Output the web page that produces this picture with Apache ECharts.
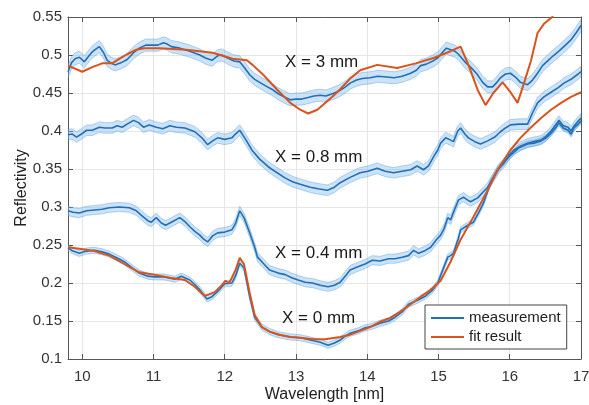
<!DOCTYPE html>
<html>
<head>
<meta charset="utf-8">
<script src="https://cdn.jsdelivr.net/npm/echarts/dist/echarts.min.js"></script>
<style>
  html, body { margin: 0; padding: 0; background: #fff; }
  #chart { width: 589px; height: 405px; }
</style>
</head>
<body>
<div id="chart"></div>
<script>
// X = 3 mm
const wl3 = [9.8, 9.85, 9.9, 9.96, 10.03, 10.07, 10.13, 10.18, 10.24, 10.3, 10.35, 10.41, 10.46, 10.55, 10.63, 10.72, 10.8, 10.89, 10.97, 11.06, 11.14, 11.2, 11.25, 11.37, 11.51, 11.65, 11.73, 11.82, 11.9, 11.96, 12.04, 12.13, 12.21, 12.28, 12.35, 12.42, 12.49, 12.58, 12.66, 12.75, 12.83, 12.92, 13.0, 13.08, 13.17, 13.25, 13.34, 13.42, 13.51, 13.59, 13.68, 13.76, 13.85, 13.93, 14.04, 14.15, 14.27, 14.38, 14.49, 14.61, 14.69, 14.75, 14.83, 14.92, 15.0, 15.06, 15.11, 15.17, 15.23, 15.28, 15.37, 15.45, 15.54, 15.62, 15.69, 15.76, 15.82, 15.87, 15.94, 16.01, 16.08, 16.15, 16.25, 16.32, 16.39, 16.46, 16.54, 16.61, 16.69, 16.77, 16.86, 16.93, 17.0]
const r3 = [0.478, 0.490, 0.495, 0.497, 0.491, 0.496, 0.503, 0.507, 0.511, 0.503, 0.493, 0.489, 0.487, 0.490, 0.494, 0.503, 0.509, 0.513, 0.513, 0.513, 0.516, 0.514, 0.511, 0.509, 0.505, 0.500, 0.496, 0.493, 0.499, 0.500, 0.496, 0.492, 0.491, 0.483, 0.474, 0.468, 0.464, 0.459, 0.455, 0.449, 0.445, 0.441, 0.442, 0.442, 0.444, 0.446, 0.447, 0.446, 0.449, 0.452, 0.457, 0.463, 0.467, 0.469, 0.470, 0.472, 0.471, 0.470, 0.472, 0.476, 0.480, 0.486, 0.488, 0.492, 0.497, 0.504, 0.509, 0.507, 0.505, 0.501, 0.491, 0.484, 0.475, 0.464, 0.458, 0.458, 0.464, 0.470, 0.475, 0.476, 0.471, 0.464, 0.461, 0.467, 0.476, 0.486, 0.493, 0.499, 0.505, 0.512, 0.520, 0.529, 0.539]
const wlFit3 = [9.8, 10.0, 10.14, 10.28, 10.42, 10.52, 10.63, 10.76, 10.87, 11.08, 11.46, 11.83, 12.11, 12.31, 12.39, 12.54, 12.73, 12.92, 13.06, 13.17, 13.3, 13.41, 13.51, 13.62, 13.76, 13.9, 14.14, 14.42, 14.68, 14.93, 15.17, 15.31, 15.42, 15.55, 15.66, 15.77, 15.9, 16.01, 16.11, 16.2, 16.3, 16.39, 16.48, 16.61]
const rFit3 = [0.486, 0.478, 0.484, 0.489, 0.489, 0.495, 0.501, 0.507, 0.509, 0.509, 0.507, 0.503, 0.495, 0.493, 0.487, 0.474, 0.455, 0.437, 0.428, 0.423, 0.428, 0.437, 0.445, 0.455, 0.469, 0.480, 0.487, 0.483, 0.489, 0.496, 0.505, 0.511, 0.487, 0.454, 0.434, 0.450, 0.464, 0.451, 0.437, 0.463, 0.493, 0.529, 0.541, 0.551]

// X = 0.8 mm
const wl08 = [9.8, 9.86, 9.92, 9.99, 10.06, 10.14, 10.24, 10.32, 10.42, 10.49, 10.56, 10.63, 10.72, 10.79, 10.86, 10.94, 11.04, 11.13, 11.23, 11.32, 11.44, 11.58, 11.68, 11.76, 11.83, 11.9, 12.0, 12.1, 12.15, 12.21, 12.3, 12.38, 12.49, 12.61, 12.72, 12.85, 12.96, 13.06, 13.2, 13.31, 13.44, 13.54, 13.62, 13.76, 13.9, 14.01, 14.14, 14.25, 14.37, 14.49, 14.61, 14.7, 14.79, 14.86, 14.93, 14.99, 15.03, 15.1, 15.17, 15.21, 15.27, 15.31, 15.37, 15.42, 15.51, 15.59, 15.69, 15.79, 15.87, 15.94, 16.01, 16.13, 16.25, 16.32, 16.39, 16.48, 16.58, 16.68, 16.76, 16.86, 16.96, 17.0]
const r08 = [0.395, 0.396, 0.392, 0.396, 0.401, 0.401, 0.405, 0.404, 0.404, 0.407, 0.405, 0.409, 0.414, 0.411, 0.405, 0.408, 0.405, 0.403, 0.407, 0.405, 0.404, 0.399, 0.391, 0.382, 0.387, 0.391, 0.389, 0.391, 0.396, 0.401, 0.388, 0.375, 0.363, 0.353, 0.346, 0.338, 0.333, 0.330, 0.326, 0.324, 0.322, 0.326, 0.332, 0.339, 0.345, 0.347, 0.351, 0.347, 0.345, 0.347, 0.349, 0.354, 0.349, 0.354, 0.366, 0.375, 0.384, 0.391, 0.388, 0.386, 0.400, 0.404, 0.396, 0.391, 0.386, 0.383, 0.387, 0.392, 0.399, 0.404, 0.408, 0.409, 0.409, 0.424, 0.437, 0.445, 0.451, 0.457, 0.463, 0.468, 0.475, 0.478]

// X = 0.4 mm
const wl04 = [9.8, 9.87, 9.96, 10.06, 10.17, 10.28, 10.38, 10.52, 10.66, 10.76, 10.83, 10.92, 10.97, 11.04, 11.11, 11.17, 11.25, 11.37, 11.45, 11.51, 11.58, 11.65, 11.70, 11.76, 11.83, 11.90, 12.00, 12.10, 12.15, 12.21, 12.27, 12.35, 12.42, 12.46, 12.55, 12.63, 12.75, 12.85, 12.94, 13.03, 13.13, 13.23, 13.34, 13.45, 13.54, 13.62, 13.69, 13.76, 13.86, 13.97, 14.07, 14.18, 14.30, 14.39, 14.49, 14.58, 14.65, 14.72, 14.80, 14.89, 14.97, 15.03, 15.08, 15.13, 15.17, 15.21, 15.28, 15.35, 15.41, 15.45, 15.55, 15.63, 15.69, 15.77, 15.85, 15.92, 15.99, 16.06, 16.15, 16.25, 16.34, 16.44, 16.51, 16.58, 16.65, 16.69, 16.75, 16.82, 16.86, 16.90, 16.96, 17.0]
const r04 = [0.295, 0.293, 0.292, 0.295, 0.296, 0.297, 0.299, 0.300, 0.299, 0.295, 0.289, 0.282, 0.280, 0.286, 0.279, 0.276, 0.280, 0.286, 0.280, 0.274, 0.268, 0.263, 0.258, 0.254, 0.262, 0.266, 0.267, 0.270, 0.278, 0.295, 0.286, 0.266, 0.247, 0.234, 0.225, 0.217, 0.213, 0.211, 0.207, 0.204, 0.201, 0.200, 0.197, 0.195, 0.197, 0.201, 0.209, 0.217, 0.221, 0.225, 0.230, 0.229, 0.232, 0.232, 0.234, 0.236, 0.243, 0.239, 0.242, 0.247, 0.257, 0.263, 0.272, 0.286, 0.283, 0.293, 0.309, 0.313, 0.309, 0.307, 0.312, 0.320, 0.326, 0.339, 0.351, 0.358, 0.368, 0.375, 0.380, 0.384, 0.386, 0.388, 0.393, 0.400, 0.409, 0.414, 0.407, 0.405, 0.400, 0.406, 0.413, 0.417]

// X = 0 mm
const wl0 = [9.8, 9.87, 9.96, 10.06, 10.17, 10.28, 10.38, 10.49, 10.59, 10.70, 10.80, 10.92, 11.01, 11.15, 11.30, 11.39, 11.51, 11.59, 11.65, 11.75, 11.82, 11.90, 12.00, 12.10, 12.15, 12.21, 12.27, 12.35, 12.42, 12.52, 12.63, 12.75, 12.92, 13.06, 13.20, 13.34, 13.45, 13.54, 13.62, 13.69, 13.76, 13.87, 13.97, 14.07, 14.18, 14.30, 14.39, 14.49, 14.58, 14.65, 14.72, 14.82, 14.92, 14.99, 15.06, 15.13, 15.17, 15.21, 15.28, 15.31, 15.41, 15.49, 15.56, 15.63, 15.73, 15.83, 15.92, 16.01, 16.13, 16.25, 16.34, 16.44, 16.51, 16.58, 16.65, 16.69, 16.75, 16.82, 16.86, 16.90, 16.96, 17.0]
const r0 = [0.246, 0.242, 0.239, 0.242, 0.243, 0.241, 0.238, 0.233, 0.228, 0.220, 0.213, 0.209, 0.208, 0.208, 0.205, 0.209, 0.204, 0.197, 0.191, 0.179, 0.182, 0.189, 0.199, 0.200, 0.209, 0.226, 0.220, 0.182, 0.155, 0.142, 0.136, 0.132, 0.129, 0.128, 0.125, 0.122, 0.118, 0.121, 0.125, 0.130, 0.134, 0.137, 0.141, 0.143, 0.147, 0.150, 0.155, 0.162, 0.172, 0.175, 0.178, 0.183, 0.191, 0.200, 0.217, 0.234, 0.236, 0.239, 0.259, 0.270, 0.276, 0.280, 0.292, 0.305, 0.332, 0.349, 0.359, 0.368, 0.378, 0.383, 0.384, 0.387, 0.391, 0.397, 0.405, 0.411, 0.404, 0.401, 0.396, 0.404, 0.409, 0.413]
const wlFit0 = [9.8, 9.96, 10.17, 10.38, 10.59, 10.80, 11.01, 11.23, 11.44, 11.58, 11.72, 11.86, 11.96, 12.01, 12.06, 12.10, 12.15, 12.21, 12.27, 12.35, 12.42, 12.52, 12.63, 12.77, 12.92, 13.06, 13.24, 13.41, 13.62, 13.76, 13.90, 14.04, 14.18, 14.32, 14.46, 14.61, 14.75, 14.89, 15.03, 15.17, 15.31, 15.49, 15.69, 15.83, 16.01, 16.15, 16.30, 16.44, 16.58, 16.72, 16.86, 17.0]
const rFit0 = [0.247, 0.245, 0.242, 0.236, 0.225, 0.214, 0.211, 0.207, 0.204, 0.195, 0.183, 0.188, 0.197, 0.203, 0.200, 0.207, 0.217, 0.233, 0.225, 0.187, 0.158, 0.142, 0.136, 0.132, 0.129, 0.128, 0.126, 0.126, 0.129, 0.132, 0.137, 0.142, 0.149, 0.154, 0.162, 0.172, 0.182, 0.191, 0.203, 0.228, 0.257, 0.287, 0.322, 0.349, 0.375, 0.391, 0.405, 0.417, 0.428, 0.437, 0.445, 0.451]

// half width of the shaded uncertainty band per measurement
const err3 = 0.008
const err08 = 0.007
const err04 = 0.006
const err0 = 0.004

const yTicks = [0.1, 0.15, 0.2, 0.25, 0.3, 0.35, 0.4, 0.45, 0.5, 0.55]

const BLUE = '#2170b6'
const ORANGE = '#d9541c'
const BAND = 'rgba(120, 180, 232, 0.38)'
const BAND_EDGE = 'rgba(90, 160, 220, 0.45)'
const AXIS = '#555'
const GRID = '#e6e6e6'
const FONT = '"Liberation Sans", Arial, Helvetica, sans-serif'

const zip = (xs, ys) => xs.map((x, i) => [x, ys[i]])

function band(xs, ys, err) {
  return {
    type: 'custom',
    silent: true,
    clip: true,
    z: 1,
    data: [[xs[0], ys[0]]],
    renderItem: (params, api) => {
      const pts = []
      xs.forEach((x, i) => pts.push(api.coord([x, ys[i] + err])))
      for (let i = xs.length - 1; i >= 0; i--) pts.push(api.coord([xs[i], ys[i] - err]))
      return {
        type: 'polygon',
        shape: { points: pts },
        style: { fill: BAND, stroke: BAND_EDGE, lineWidth: 1 }
      }
    }
  }
}

function line(name, xs, ys, color, width, z) {
  return {
    type: 'line',
    name: name,
    data: zip(xs, ys),
    symbol: 'none',
    silent: true,
    z: z,
    lineStyle: { color: color, width: width },
    itemStyle: { color: color }
  }
}

function label(text, x, y) {
  return {
    type: 'text', x: x, y: y, z: 10,
    style: { text: text, font: '17px ' + FONT, fill: '#1a1a1a', verticalAlign: 'middle' }
  }
}

const chart = echarts.init(document.getElementById('chart'))

chart.setOption({
  animation: false,
  grid: { left: 68, right: 8, top: 17, bottom: 46, containLabel: false, outerBoundsMode: 'none' },
  legend: {
    data: ['measurement', 'fit result'],
    orient: 'vertical',
    left: 425, top: 305,
    padding: [5, 6, 4, 6],
    itemGap: 3,
    icon: 'rect',
    itemWidth: 33, itemHeight: 2,
    backgroundColor: '#fff',
    borderColor: '#444', borderWidth: 1,
    textStyle: { fontSize: 15, fontFamily: FONT, color: '#222', lineHeight: 16 }
  },
  xAxis: [
    {
      type: 'value', min: 9.8, max: 17, splitNumber: 7,
      name: 'Wavelength [nm]', nameLocation: 'middle', nameGap: 28, nameMoveOverlap: false,
      nameTextStyle: { fontSize: 16, fontFamily: FONT, color: '#222' },
      axisLine: { onZero: false, lineStyle: { color: AXIS } },
      axisTick: { inside: true, length: 5, lineStyle: { color: AXIS } },
      axisLabel: {
        margin: 10, fontSize: 15, fontFamily: FONT, color: '#333',
        formatter: v => Math.abs(v - Math.round(v)) < 1e-6 ? String(Math.round(v)) : ''
      },
      splitLine: { lineStyle: { color: GRID } }
    },
    {
      type: 'value', min: 9.8, max: 17, splitNumber: 7, position: 'top',
      axisLine: { onZero: false, lineStyle: { color: AXIS } },
      axisTick: { inside: true, length: 5, lineStyle: { color: AXIS } },
      axisLabel: { show: false },
      splitLine: { show: false }
    }
  ],
  yAxis: [
    {
      type: 'value', min: yTicks[0], max: yTicks[yTicks.length - 1], interval: 0.05,
      name: 'Reflectivity', nameLocation: 'middle', nameGap: 38, nameMoveOverlap: false,
      nameTextStyle: { fontSize: 16, fontFamily: FONT, color: '#222' },
      axisLine: { show: true, onZero: false, lineStyle: { color: AXIS } },
      axisTick: { show: true, inside: true, length: 5, lineStyle: { color: AXIS } },
      axisLabel: { margin: 6, fontSize: 15, fontFamily: FONT, color: '#333' },
      splitLine: { lineStyle: { color: GRID } }
    },
    {
      type: 'value', min: yTicks[0], max: yTicks[yTicks.length - 1], interval: 0.05, position: 'right',
      axisLine: { show: true, onZero: false, lineStyle: { color: AXIS } },
      axisTick: { show: true, inside: true, length: 5, lineStyle: { color: AXIS } },
      axisLabel: { show: false },
      splitLine: { show: false }
    }
  ],
  graphic: [
    label('X = 3 mm', 285, 62),
    label('X = 0.8 mm', 275, 157),
    label('X = 0.4 mm', 275, 253),
    label('X = 0 mm', 282, 318)
  ],
  series: [
    band(wl3, r3, err3),
    band(wl08, r08, err08),
    band(wl04, r04, err04),
    band(wl0, r0, err0),
    line('measurement', wl3, r3, BLUE, 1.6, 3),
    line('measurement', wl08, r08, BLUE, 1.6, 3),
    line('measurement', wl04, r04, BLUE, 1.6, 3),
    line('measurement', wl0, r0, BLUE, 1.6, 3),
    line('fit result', wlFit3, rFit3, ORANGE, 2, 4),
    line('fit result', wlFit0, rFit0, ORANGE, 2, 4)
  ]
})
</script>
</body>
</html>
